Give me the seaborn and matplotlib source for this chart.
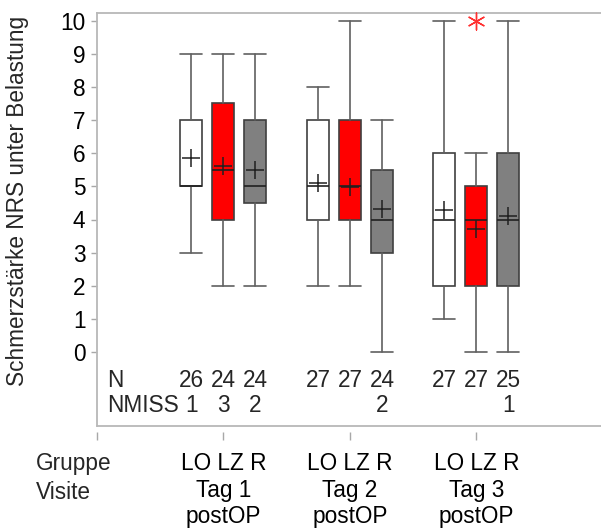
import matplotlib
matplotlib.use("Agg")
import matplotlib.pyplot as plt
import pandas as pd
import seaborn as sns

# Visits (x groups) and treatment groups within each visit
visits = ["Tag 1\npostOP", "Tag 2\npostOP", "Tag 3\npostOP"]
groups = ["LO", "LZ", "R"]
group_colors = {"LO": "#ffffff", "LZ": "#ff0000", "R": "#808080"}

# Box statistics, ordered Tag 1 (LO, LZ, R), Tag 2 (LO, LZ, R), Tag 3 (LO, LZ, R)
whisker_low = [3, 2, 2, 2, 2, 0, 1, 0, 0]
q1 = [5, 4, 4.5, 4, 4, 3, 2, 2, 2]
median = [5, 5.5, 5, 5, 5, 4, 4, 4, 4]
q3 = [7, 7.5, 7, 7, 7, 5.5, 6, 5, 6]
whisker_high = [9, 9, 9, 8, 10, 7, 10, 6, 10]
means = [5.85, 5.62, 5.5, 5.1, 4.97, 4.33, 4.3, 3.72, 4.12]
outliers = [[], [], [], [], [], [], [], [10], []]
n_obs = [26, 24, 24, 27, 27, 24, 27, 27, 25]
n_miss = [1, 3, 2, 0, 0, 2, 0, 0, 1]

FS = 16.3
LS = 1.35
sns.set_theme(style="white")
plt.rcParams["font.family"] = ["Liberation Sans", "DejaVu Sans"]
plt.rcParams["font.size"] = FS

rows = []
offsets = {"LO": -0.253, "LZ": 0.0, "R": 0.253}
k = 0
for vi, v in enumerate(visits):
    for g in groups:
        rows.append(dict(visit=v, group=g, pos=vi + 1 + offsets[g],
                         lo=whisker_low[k], q1=q1[k], med=median[k], q3=q3[k],
                         hi=whisker_high[k], mean=means[k], fliers=outliers[k],
                         n=n_obs[k], nmiss=n_miss[k]))
        k += 1
df = pd.DataFrame(rows)

fig = plt.figure(figsize=(6.01, 5.31), dpi=100)
ax = fig.add_axes([97 / 601, 1 - 426 / 531, 504 / 601, 413 / 531])

stats = [dict(whislo=r.lo, q1=r.q1, med=r.med, q3=r.q3, whishi=r.hi,
              fliers=[], label="") for r in df.itertuples()]
bw = 0.174
bp = ax.bxp(stats, positions=df["pos"], widths=bw, capwidths=bw,
            patch_artist=True, showfliers=False, manage_ticks=False,
            boxprops=dict(linewidth=1.2, edgecolor="#404040"),
            whiskerprops=dict(color="#606060", linewidth=1.2),
            capprops=dict(color="#606060", linewidth=1.2),
            medianprops=dict(color="#202020", linewidth=1.2))
for patch, g in zip(bp["boxes"], df["group"]):
    patch.set_facecolor(group_colors[g])

# Means
sns.scatterplot(data=df, x="pos", y="mean", marker="+", color="#202020",
                s=150, linewidth=1.1, ax=ax, legend=False, zorder=5)

# Outliers
fl = df.explode("fliers").dropna(subset=["fliers"])
fl = fl.assign(fliers=fl["fliers"].astype(float))
sns.scatterplot(data=fl, x="pos", y="fliers", marker=(6, 2, 0), color="#ff3030",
                s=150, linewidth=1.0, ax=ax, legend=False, zorder=5, clip_on=False)

# N / NMISS table inside the plot area
ax.text(0.08, -0.85, "N", ha="left", va="center", fontsize=FS)
ax.text(0.08, -1.6, "NMISS", ha="left", va="center", fontsize=FS)
for r in df.itertuples():
    ax.text(r.pos, -0.85, f"{r.n}", ha="center", va="center", fontsize=FS)
    if r.nmiss:
        ax.text(r.pos, -1.6, f"{r.nmiss}", ha="center", va="center", fontsize=FS)

ax.set_xlim(0, 3.985)
ax.set_ylim(-2.23, 10.23)
ax.set_yticks(range(0, 11))
ax.set_xticks(range(0, 4))
ax.set_xticklabels([""] + ["LO LZ R\n" + v for v in visits], linespacing=LS)
ax.set_xlabel("")
ax.set_ylabel("Schmerzstärke NRS unter Belastung", fontsize=FS)
ax.yaxis.set_label_coords(-0.135, 0.545)

frame = "#b8b8b8"
ax.spines["right"].set_visible(False)
for s in ["left", "top"]:
    ax.spines[s].set_color(frame)
    ax.spines[s].set_linewidth(1.3)
ax.spines["bottom"].set_position(("outward", 4))
ax.spines["bottom"].set_color("none")
ax.plot([0, 1], [0, 0], transform=ax.transAxes, color=frame, lw=1.3, clip_on=False)

ax.tick_params(axis="y", left=True, length=4.3, width=1, color="#a8a8a8",
               labelsize=FS, pad=4, labelcolor="black")
ax.tick_params(axis="x", bottom=True, length=5.8, width=1, color="#a8a8a8",
               labelsize=FS, pad=9, labelcolor="black")

fig.text(36 / 601, 1 - 452 / 531, "Gruppe\nVisite", ha="left", va="top",
         fontsize=FS, linespacing=LS)

fig.savefig("out.png", dpi=100)
